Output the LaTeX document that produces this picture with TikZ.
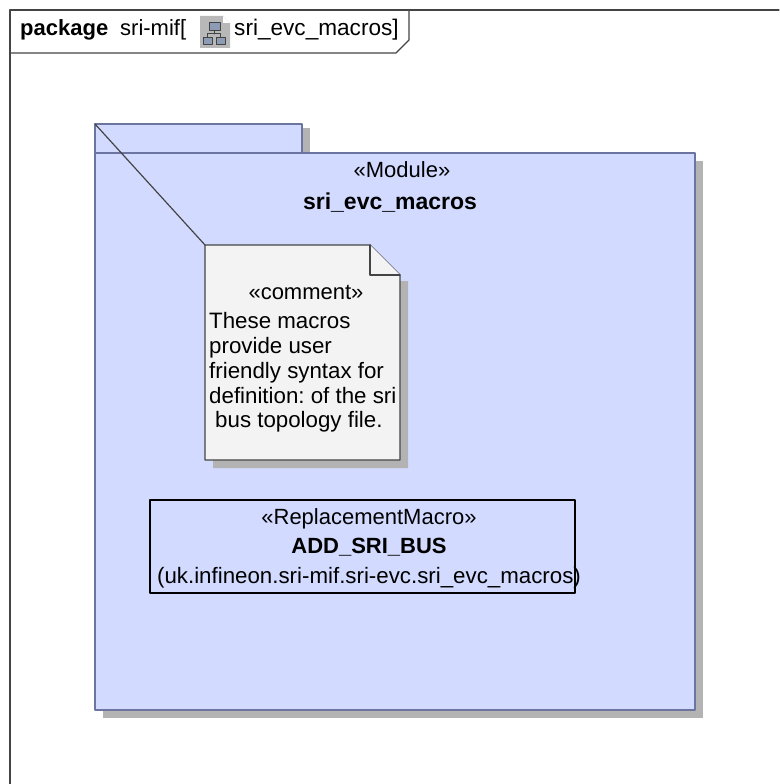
\documentclass[tikz,border=0pt]{standalone}
\usepackage{fontspec}
\setmainfont{Liberation Sans}
\definecolor{modfill}{HTML}{D2DBFF}
\definecolor{modline}{HTML}{6B75A0}
\definecolor{shadowgray}{HTML}{B3B3B3}
\definecolor{notefill}{HTML}{F3F3F3}
\definecolor{darkline}{HTML}{444444}
\definecolor{iconfill}{HTML}{B8B8B8}
\definecolor{iconbox}{HTML}{8E9BB5}
\begin{document}
\begin{tikzpicture}[x=1pt, y=-1pt, font=\fontsize{22}{26}\selectfont\frenchspacing, line join=round, line cap=round,
  umltext/.style={inner sep=0pt, text=black, anchor=base},
  modulebox/.style={draw=modline, fill=modfill, line width=1.3pt},
  notebox/.style={draw=darkline, fill=notefill, line width=1.3pt},
  treebox/.style={draw=darkline, fill=iconbox, line width=1pt}]
\useasboundingbox (0,0) rectangle (779,784);
% Khung package
\draw[darkline, line width=1.2pt] (779,10) -- (10,10) -- (10,784);
\draw[darkline, line width=1.2pt] (409,10) -- (409,40) -- (396,53) -- (10,53);
\node[umltext, anchor=base west] (framekey) at (20,36) {\textbf{package}};
\node[umltext, anchor=base west] (framename) at (120,36) {sri-mif[};
\node[umltext, anchor=base west] (frametitle) at (234,36) {\fontsize{22.6}{26}\selectfont sri\_evc\_macros]};
% Icon
\fill[iconfill] (200,16) -- (223,16) -- (230,23) -- (230,48) -- (200,48) -- cycle;
\fill[white] (223,16) -- (230,23) -- (223,23) -- cycle;
\draw[darkline, line width=1pt] (214.5,31) -- (214.5,34) (207.5,38) -- (207.5,34) -- (220.5,34) -- (220.5,38);
\draw[treebox] (209,23) rectangle (220,31);
\draw[treebox] (203,38) rectangle (212,45);
\draw[treebox] (216,38) rectangle (225,45);
% Bong cua module
\fill[shadowgray] (302,128) rectangle (310,153);
\fill[shadowgray] (695,161) rectangle (703,718);
\fill[shadowgray] (103,710) rectangle (703,718);
% Module
\draw[modulebox] (95,124) rectangle (302,153);
\draw[modulebox] (95,153) rectangle (695,710);
\node[umltext] (modstereo) at (402,177) {«Module»};
\node[umltext] (modname) at (390,209) {\fontsize{23}{26}\selectfont\textbf{sri\_evc\_macros}};
% Ghi chu
\fill[shadowgray] (213,468) -- (213,460) -- (400,460) -- (400,281) -- (408,281) -- (408,468) -- cycle;
\draw[notebox] (205,245) coordinate (notecorner) -- (370,245) -- (400,275) -- (400,460) -- (205,460) -- cycle;
\draw[notebox] (370,245) -- (370,275) -- (400,275);
\coordinate (modcorner) at (95,124);
\draw[darkline, line width=1.2pt] (modcorner) -- (notecorner);
\node[umltext] (notestereo) at (306,299) {«comment»};
\begin{scope}[font=\fontsize{22.3}{26}\selectfont\frenchspacing]
\node[umltext, anchor=base west] (noteone) at (209,328) {These macros};
\node[umltext, anchor=base west] (notetwo) at (209,353) {provide user};
\node[umltext, anchor=base west] (notethree) at (209,378) {friendly syntax for};
\node[umltext, anchor=base west] (notefour) at (209,403) {definition: of the sri};
\node[umltext, anchor=base west] (notefive) at (215,427) {bus topology file.};
\end{scope}
% Macro
\draw[black, line width=1.3pt] (150,500) rectangle (575,593);
\node[umltext] (macrostereo) at (369,524) {«ReplacementMacro»};
\node[umltext] (macroname) at (369,553) {\textbf{ADD\_SRI\_BUS}};
\node[umltext] (macropath) at (369,583) {\fontsize{22.3}{26}\selectfont (uk.infineon.sri-mif.sri-evc.sri\_evc\_macros)};
\end{tikzpicture}
\end{document}
